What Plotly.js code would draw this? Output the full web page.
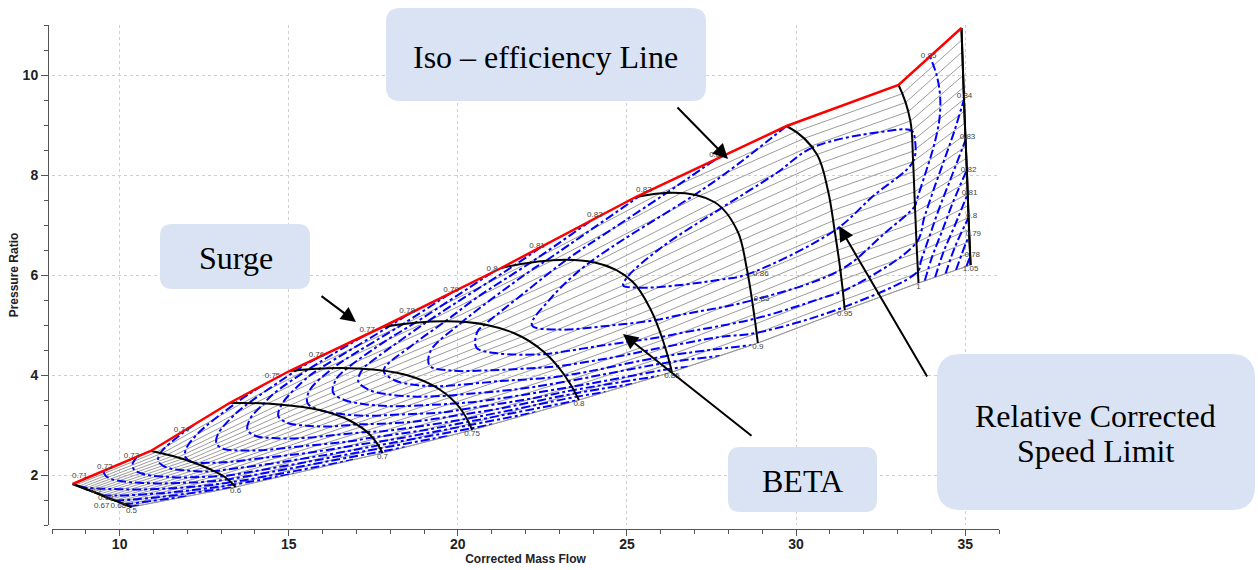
<!DOCTYPE html>
<html><head><meta charset="utf-8">
<script src="https://cdn.plot.ly/plotly-3.0.1.min.js"></script>
<style>html,body{margin:0;padding:0;background:#fff}#chart{width:1258px;height:570px}</style>
</head><body><div id="chart"></div>
<script>
// ---------------- DATA ----------------
// Relative corrected speed lines
const speeds = [0.5, 0.6, 0.7, 0.75, 0.8, 0.85, 0.9, 0.95, 1.0, 1.05];
const speedLabels = ['0.5', '0.6', '0.7', '0.75', '0.8', '0.85', '0.9', '0.95', '1', '1.05'];
// Beta positions along each speed line (0 = surge end, 1 = choke end)
const betaGrid = [0, 0.2, 0.4, 0.6, 0.8, 1.0];
// Corrected mass flow at each beta point (one row per speed line)
const flowGrid = [
  [8.61, 8.96, 9.31, 9.66, 10.01, 10.35],
  [10.92, 11.57, 12.14, 12.66, 13.11, 13.43],
  [13.25, 14.72, 15.91, 16.80, 17.41, 17.77],
  [15.02, 17.06, 18.48, 19.44, 20.05, 20.42],
  [17.77, 20.24, 21.65, 22.53, 23.14, 23.58],
  [21.28, 24.05, 25.16, 25.70, 26.06, 26.33],
  [25.26, 27.58, 28.28, 28.54, 28.72, 28.87],
  [29.72, 30.62, 30.95, 31.14, 31.31, 31.44],
  [33.03, 33.38, 33.46, 33.51, 33.56, 33.62],
  [34.89, 34.94, 34.99, 35.05, 35.10, 35.16]
];
// Pressure ratio at each beta point (one row per speed line)
const prGrid = [
  [1.82, 1.73, 1.64, 1.54, 1.45, 1.36],
  [2.48, 2.38, 2.26, 2.12, 1.96, 1.76],
  [3.44, 3.41, 3.30, 3.09, 2.80, 2.44],
  [4.08, 4.13, 4.00, 3.72, 3.35, 2.90],
  [4.96, 5.06, 4.84, 4.47, 4.01, 3.50],
  [6.14, 6.25, 5.87, 5.31, 4.70, 4.06],
  [7.56, 7.46, 6.86, 6.14, 5.40, 4.64],
  [8.98, 8.41, 7.67, 6.89, 6.10, 5.30],
  [9.80, 9.08, 8.27, 7.46, 6.65, 5.84],
  [10.94, 9.99, 9.04, 8.10, 7.15, 6.20]
];
// Isentropic efficiency: rows = effBeta, columns = speeds
const effBeta = [0, 0.1, 0.2, 0.3, 0.4, 0.5, 0.6, 0.7, 0.8, 0.9, 1.0];
const effTable = [
  [0.711, 0.734, 0.745, 0.754, 0.774, 0.802, 0.829, 0.850, 0.853, 0.847],
  [0.710, 0.741, 0.765, 0.785, 0.810, 0.835, 0.846, 0.857, 0.856, 0.845],
  [0.709, 0.746, 0.779, 0.808, 0.832, 0.852, 0.857, 0.862, 0.859, 0.843],
  [0.707, 0.749, 0.787, 0.820, 0.843, 0.858, 0.863, 0.865, 0.861, 0.840],
  [0.704, 0.750, 0.790, 0.825, 0.848, 0.861, 0.866, 0.866, 0.860, 0.835],
  [0.700, 0.748, 0.789, 0.824, 0.847, 0.859, 0.865, 0.864, 0.856, 0.828],
  [0.696, 0.744, 0.785, 0.818, 0.842, 0.855, 0.862, 0.860, 0.851, 0.820],
  [0.691, 0.737, 0.777, 0.808, 0.834, 0.848, 0.856, 0.856, 0.846, 0.810],
  [0.685, 0.728, 0.766, 0.795, 0.822, 0.838, 0.848, 0.850, 0.840, 0.800],
  [0.678, 0.713, 0.747, 0.772, 0.800, 0.820, 0.837, 0.841, 0.833, 0.787],
  [0.668, 0.690, 0.715, 0.735, 0.760, 0.795, 0.822, 0.828, 0.826, 0.776]
];
const effLevelStart = 0.67, effLevelEnd = 0.86, effLevelStep = 0.01;
// Efficiency contour labels
const effLabelText = ['0.71','0.72','0.73','0.74','0.75','0.76','0.77','0.78','0.79','0.8','0.81','0.82','0.83','0.84','0.85',
                      '0.84','0.83','0.82','0.81','0.8','0.79','0.78','0.86','0.85','0.7','0.69','0.67','0.68'];
const effLabelFlow = [8.82, 9.56, 10.35, 11.83, 14.52, 15.82, 17.32, 18.50, 19.80, 21.01, 22.34, 24.05, 25.50, 27.66, 33.92,
                      34.98, 35.07, 35.10, 35.13, 35.19, 35.24, 35.21, 28.96, 28.98, 9.32, 9.59, 9.47, 9.96];
const effLabelPR = [1.98, 2.16, 2.38, 2.90, 3.98, 4.40, 4.90, 5.28, 5.70, 6.12, 6.58, 7.20, 7.70, 8.40, 10.38,
                    9.58, 8.76, 8.10, 7.64, 7.18, 6.82, 6.40, 6.02, 5.52, 1.68, 1.54, 1.38, 1.38];

// ---------------- BUILD ----------------
const SANS = 'Liberation Sans, Arial, Helvetica, sans-serif';
const SERIF = 'Liberation Serif, Times New Roman, serif';
const ca = [], cb = [], cx = [], cy = [];
speeds.forEach((s, i) => betaGrid.forEach((b, j) => {
  ca.push(s); cb.push(b); cx.push(flowGrid[i][j]); cy.push(prGrid[i][j]);
}));
const noLabels = {showticklabels: 'none', title: {text: ''}, showline: false};

const traces = [
  // grey beta lines
  {type: 'carpet', carpet: 'gridA', a: ca, b: cb, x: cx, y: cy, xaxis: 'x', yaxis: 'y',
   aaxis: Object.assign({smoothing: 0, showgrid: false, startline: false, endline: false, minorgridcount: 0}, noLabels),
   baxis: Object.assign({smoothing: 1, showgrid: true, gridcolor: '#9c9c9c', gridwidth: 1,
     minorgridcount: 3, minorgridcolor: '#9c9c9c', minorgridwidth: 1,
     startline: true, startlinecolor: '#9c9c9c', startlinewidth: 1,
     endline: true, endlinecolor: '#9c9c9c', endlinewidth: 1}, noLabels)},
  // efficiency contours
  {type: 'contourcarpet', carpet: 'gridB', a: speeds, b: effBeta, z: effTable, xaxis: 'x2', yaxis: 'y2',
   autocontour: false, showscale: false, hoverinfo: 'skip',
   contours: {start: effLevelStart, end: effLevelEnd, size: effLevelStep, coloring: 'none', showlabels: false},
   line: {color: '#0000ff', width: 2, dash: 'dashdot', smoothing: 1}},
  // black speed lines
  {type: 'carpet', carpet: 'gridB', a: ca, b: cb, x: cx, y: cy, xaxis: 'x2', yaxis: 'y2',
   aaxis: Object.assign({smoothing: 0, showgrid: true, gridcolor: '#000', gridwidth: 2,
     startline: true, startlinecolor: '#000', startlinewidth: 2,
     endline: true, endlinecolor: '#000', endlinewidth: 2, minorgridcount: 0}, noLabels),
   baxis: Object.assign({smoothing: 1, showgrid: false, startline: false, endline: false, minorgridcount: 0}, noLabels)},
  // surge line
  {type: 'scatter', mode: 'lines', xaxis: 'x2', yaxis: 'y2', hoverinfo: 'skip',
   x: flowGrid.map(r => r[0]), y: prGrid.map(r => r[0]),
   line: {color: '#ff0000', width: 2.5}},
  // speed labels
  {type: 'scatter', mode: 'text', xaxis: 'x2', yaxis: 'y2', hoverinfo: 'skip', cliponaxis: false,
   x: flowGrid.map(r => r[r.length - 1]), y: prGrid.map(r => r[r.length - 1]),
   text: speedLabels, textposition: 'bottom center',
   textfont: {family: SANS, size: 8, color: '#444'}},
  // efficiency labels
  {type: 'scatter', mode: 'text', xaxis: 'x2', yaxis: 'y2', hoverinfo: 'skip', cliponaxis: false,
   x: effLabelFlow, y: effLabelPR, text: effLabelText, textposition: 'middle center',
   textfont: {family: SANS, size: 8, color: '#444'}}
];

// ---------------- LAYOUT ----------------
const M = {l: 48, r: 259, t: 25, b: 41};
const PW = 1258 - M.l - M.r, PH = 570 - M.t - M.b;
const px = v => (v - M.l) / PW;
const py = v => 1 - (v - M.t) / PH;
function roundedBox(x0, y0, x1, y1, r) {
  const rx = r / PW, ry = r / PH;
  const X0 = px(x0), X1 = px(x1), YT = py(y0), YB = py(y1);
  return `M${X0 + rx},${YT} L${X1 - rx},${YT} Q${X1},${YT} ${X1},${YT - ry} L${X1},${YB + ry} Q${X1},${YB} ${X1 - rx},${YB} ` +
         `L${X0 + rx},${YB} Q${X0},${YB} ${X0},${YB + ry} L${X0},${YT - ry} Q${X0},${YT} ${X0 + rx},${YT} Z`;
}
const boxFill = 'rgb(218,227,243)';
const shapes = [[386, 8, 706, 101, 14], [160, 224, 310, 289, 12], [728, 447, 877, 512, 12], [937, 354, 1255, 510, 24]]
  .map(b => ({type: 'path', xref: 'paper', yref: 'paper', path: roundedBox(...b), fillcolor: boxFill, line: {width: 0}, layer: 'above'}));

const boxText = (t, x, y) => ({text: t, xref: 'paper', yref: 'paper', x: px(x), y: py(y), showarrow: false,
  xanchor: 'center', yanchor: 'middle', font: {family: SERIF, size: 32, color: '#000'}});
const arrow = (tx, ty, sx, sy) => ({text: '', xref: 'paper', yref: 'paper', x: px(tx), y: py(ty),
  ax: sx - tx, ay: sy - ty, axref: 'pixel', ayref: 'pixel', showarrow: true,
  arrowhead: 2, arrowsize: 1.5, arrowwidth: 2, arrowcolor: '#000', standoff: 0, startstandoff: 0});
const annotations = [
  boxText('Iso – efficiency Line', 545.5, 57),
  boxText('Surge', 235.5, 258),
  boxText('BETA', 802, 481),
  boxText('Relative Corrected', 1095, 416),
  boxText('Speed Limit', 1095, 451),
  arrow(728, 159, 676, 106),
  arrow(356, 322, 320, 295),
  arrow(623, 334, 753, 437),
  arrow(839, 226, 928, 378)
];

const tickFont = {family: SANS, size: 14, color: '#222', weight: 'bold'};
const titleFont = {family: SANS, size: 12, color: '#222', weight: 'bold'};
const layout = {
  width: 1258, height: 570, margin: Object.assign({pad: 0}, M),
  paper_bgcolor: '#fff', plot_bgcolor: '#fff', showlegend: false, hovermode: false,
  xaxis: {range: [8, 36], domain: [4 / PW, 1], anchor: 'free', position: 0,
    showline: true, linecolor: '#555', linewidth: 1, zeroline: false,
    ticks: 'outside', ticklen: 6, tickcolor: '#555', tickwidth: 1, tick0: 0, dtick: 5, tickfont: tickFont,
    ticklabelstandoff: -4,
    showgrid: true, gridcolor: '#cfcfcf', gridwidth: 1, griddash: 'dot',
    minor: {dtick: 1, ticks: 'outside', ticklen: 4, tickcolor: '#555', tickwidth: 1, showgrid: false},
    title: {text: 'Corrected Mass Flow', font: titleFont, standoff: 2}},
  yaxis: {range: [1, 11], domain: [4 / PH, 1], anchor: 'free', position: 0,
    showline: true, linecolor: '#555', linewidth: 1, zeroline: false,
    ticks: 'outside', ticklen: 7, tickcolor: '#555', tickwidth: 1, tick0: 0, dtick: 2, tickfont: tickFont,
    showgrid: true, gridcolor: '#cfcfcf', gridwidth: 1, griddash: 'dot',
    minor: {dtick: 0.5, ticks: 'outside', ticklen: 4, tickcolor: '#555', tickwidth: 1, showgrid: false},
    title: {text: 'Pressure Ratio', font: titleFont, standoff: 0}},
  xaxis2: {overlaying: 'x', range: [8, 36], visible: false, anchor: 'y2'},
  yaxis2: {overlaying: 'y', range: [1, 11], visible: false, anchor: 'x2'},
  shapes: shapes,
  annotations: annotations
};

Plotly.newPlot('chart', traces, layout, {staticPlot: true, displayModeBar: false});
</script>
</body></html>
